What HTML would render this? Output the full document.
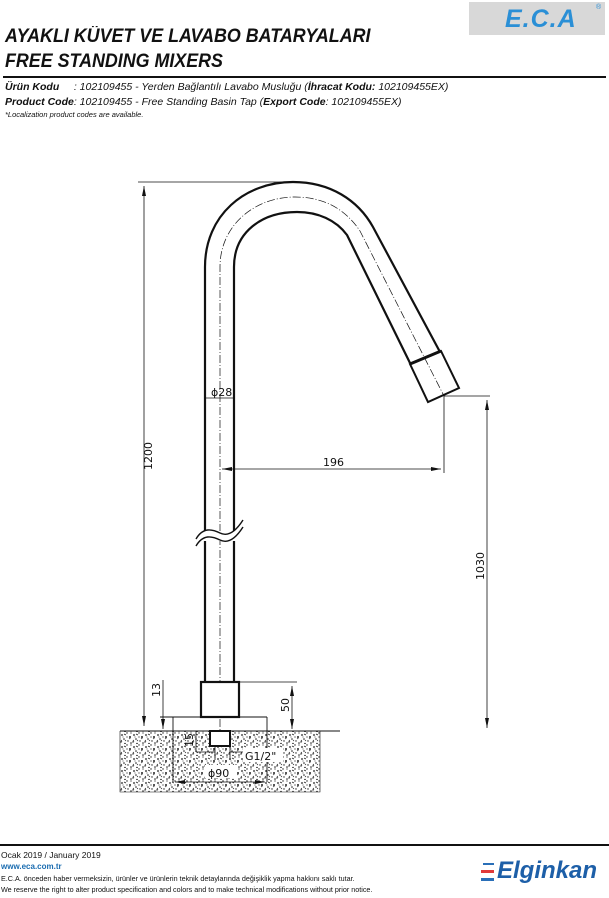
<!DOCTYPE html>
<html><head><meta charset="utf-8"><style>
html,body{margin:0;padding:0;background:#fff;}
body{width:609px;height:898px;position:relative;overflow:hidden;font-family:"Liberation Sans",sans-serif;color:#111;}
.t{position:absolute;white-space:nowrap;font-style:italic;}
</style></head><body>
<div style="position:absolute;left:469px;top:2px;width:136px;height:33px;background:#d8d8d8;"></div>
<div class="t" style="left:505px;top:5px;font-size:25px;font-weight:bold;color:#2a8fd6;letter-spacing:1px;">E.C.A</div>
<div class="t" style="left:596px;top:4px;font-size:7px;color:#2a8fd6;font-style:normal;">®</div>
<div class="t" style="left:5px;top:26px;font-size:19px;font-weight:bold;transform:scaleX(0.94);transform-origin:0 0;">AYAKLI KÜVET VE LAVABO BATARYALARI</div>
<div class="t" style="left:5px;top:51px;font-size:19px;font-weight:bold;transform:scaleX(0.94);transform-origin:0 0;">FREE STANDING MIXERS</div>
<div style="position:absolute;left:3px;top:76px;width:603px;height:2px;background:#111;"></div>
<div class="t" style="left:5px;top:81px;font-size:10.5px;"><b>Ürün Kodu</b>&nbsp;&nbsp;&nbsp;&nbsp;&nbsp;: 102109455 - Yerden Bağlantılı Lavabo Musluğu (<b>İhracat Kodu:</b> 102109455EX)</div>
<div class="t" style="left:5px;top:96px;font-size:10.5px;"><b>Product Code</b>: 102109455 - Free Standing Basin Tap (<b>Export Code</b>: 102109455EX)</div>
<div class="t" style="left:5px;top:110px;font-size:7.5px;">*Localization product codes are available.</div>

<svg width="609" height="898" style="position:absolute;left:0;top:0" xmlns="http://www.w3.org/2000/svg">
<defs>
<pattern id="sp" width="12" height="12" patternUnits="userSpaceOnUse">
<rect width="12" height="12" fill="#fff"/>
<circle cx="2" cy="3" r="0.9" fill="#222"/><circle cx="7" cy="1" r="0.7" fill="#222"/><circle cx="10" cy="5" r="1" fill="#222"/>
<circle cx="4" cy="7" r="0.8" fill="#222"/><circle cx="8" cy="9" r="0.7" fill="#222"/><circle cx="11" cy="11" r="0.8" fill="#222"/>
<circle cx="1" cy="10" r="0.7" fill="#222"/><circle cx="5" cy="11.5" r="0.8" fill="#222"/><circle cx="11" cy="1" r="0.6" fill="#222"/>
<circle cx="7" cy="5" r="0.6" fill="#222"/><circle cx="3" cy="5" r="0.5" fill="#222"/><path d="M4 2l2 1M9 7l1.5 -1M1 8l1 1.5M6 8l-1 1" stroke="#222" stroke-width="0.7"/>
</pattern>
<marker id="a" viewBox="0 0 10 4" refX="10" refY="2" markerWidth="10" markerHeight="4" orient="auto-start-reverse" markerUnits="userSpaceOnUse"><path d="M0 0L10 2L0 4z" fill="#111"/></marker>
</defs>
<rect x="120" y="731" width="200" height="61" fill="url(#sp)"/>
<g fill="none" stroke="#111">
<path d="M205 682 L205 267 C205 215 245 182 293 182 C330 182 358 200 373 227 L440 352" stroke-width="2.2"/>
<path d="M234 682 L234 267 C234 232 262 212 297 212 C318 212 336 220 347 235 L410 363" stroke-width="2.2"/>
<path d="M410 364 L441 351 L459 388 L428 402 Z" stroke-width="2"/>
<path d="M410 364 L441 351" stroke-width="3"/>
<path d="M220 740 L220 267 C220 225 255 197 295 197 C325 197 346 210 360 231 L444 396" stroke-width="0.7" stroke-dasharray="8 2 1 2"/>
<rect x="200" y="531" width="40" height="10" fill="#fff" stroke="none"/>
<path d="M196 546 C203 534 212 536 220 540 C228 544 236 538 243 527" stroke-width="1.4"/>
<path d="M196 539 C203 527 212 529 220 533 C228 537 236 531 243 520" stroke-width="1.4"/>
<rect x="201" y="682" width="38" height="35" stroke-width="2.2" fill="#fff"/>
<path d="M160 717 L267 717 M173 717 L173 782 M267 717 L267 782" stroke-width="0.9"/>
<rect x="210" y="731" width="20" height="15" stroke-width="2" fill="#fff"/>
<path d="M120 731 L340 731" stroke-width="1"/>
<path d="M120 731 L120 792 L320 792 L320 731" stroke-width="0.6"/>
<path d="M138 182 L293 182" stroke-width="0.8"/>
<path d="M144 186 L144 726" stroke-width="0.8" marker-start="url(#a)" marker-end="url(#a)"/>
<path d="M205 398 L234 398" stroke-width="0.8"/>
<path d="M222 469 L441 469" stroke-width="0.8" marker-start="url(#a)" marker-end="url(#a)"/>
<path d="M444 396 L444 473 M444 396 L490 396" stroke-width="0.8"/>
<path d="M487 400 L487 728" stroke-width="0.8" marker-start="url(#a)" marker-end="url(#a)"/>
<path d="M239 682 L297 682" stroke-width="0.8"/>
<path d="M292 686 L292 729" stroke-width="0.8" marker-start="url(#a)" marker-end="url(#a)"/>
<path d="M163 680 L163 729" stroke-width="0.8" marker-end="url(#a)"/>
<path d="M196 731 L196 752 M196 752 L215 752" stroke-width="0.8"/>
<path d="M230 752 L243 752 M215 746 L215 760 M230 746 L230 760" stroke-width="0.8"/>
<path d="M175 782 L265 782" stroke-width="0.8" marker-start="url(#a)" marker-end="url(#a)"/>
</g>
<rect x="243" y="748" width="40" height="14" fill="#fff"/>
<rect x="205" y="765" width="32" height="13" fill="#fff"/>
<g font-family="'DejaVu Sans','Liberation Sans',sans-serif" font-size="11" fill="#111">
<text x="211" y="396">ɸ28</text>
<text x="323" y="466">196</text>
<text x="245" y="760">G1/2"</text>
<text x="208" y="777">ɸ90</text>
<text transform="translate(152,470) rotate(-90)">1200</text>
<text transform="translate(484,580) rotate(-90)">1030</text>
<text transform="translate(289,712) rotate(-90)">50</text>
<text transform="translate(160,697) rotate(-90)">13</text>
<text transform="translate(193,747) rotate(-90)">15</text>
</g>
</svg>

<div style="position:absolute;left:0;top:844px;width:609px;height:2px;background:#111;"></div>
<div class="t" style="left:1px;top:850px;font-size:8.5px;font-style:normal;">Ocak 2019 / January 2019</div>
<div class="t" style="left:1px;top:862px;font-size:8px;font-weight:bold;font-style:normal;color:#1a6cb0;">www.eca.com.tr</div>
<div class="t" style="left:1px;top:874px;font-size:7.2px;font-style:normal;">E.C.A. önceden haber vermeksizin, ürünler ve ürünlerin teknik detaylarında değişiklik yapma hakkını saklı tutar.</div>
<div class="t" style="left:1px;top:885px;font-size:7.2px;font-style:normal;">We reserve the right to alter product specification and colors and to make technical modifications without prior notice.</div>
<div style="position:absolute;left:483px;top:863px;width:11px;height:2px;background:#2a6fb8;"></div>
<div style="position:absolute;left:481px;top:870px;width:13px;height:3px;background:#e03a3a;"></div>
<div style="position:absolute;left:481px;top:878px;width:13px;height:3px;background:#2a6fb8;"></div>
<div class="t" style="left:497px;top:857px;font-size:24px;font-weight:bold;color:#1d5fa8;">Elginkan</div>
</body></html>
